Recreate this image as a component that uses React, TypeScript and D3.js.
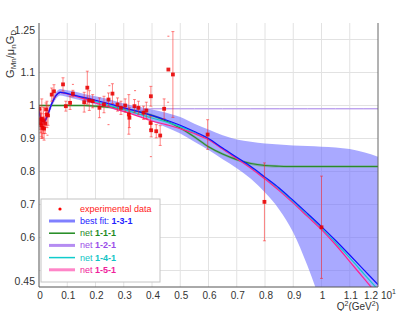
import * as d3 from 'd3';
import React from 'react';

// fit curves, sampled on a common Q^2 grid
const q2Grid = [0, 0.005, 0.012, 0.02, 0.03, 0.045, 0.06, 0.075, 0.09, 0.12, 0.16, 0.2, 0.25, 0.3, 0.35, 0.4, 0.45, 0.5, 0.55, 0.6, 0.65, 0.7, 0.75, 0.8, 0.85, 0.9, 0.95, 1.0, 1.05, 1.1, 1.15, 1.2];
const bestFit = [0.985, 0.965, 0.952, 0.953, 0.97, 1.005, 1.03, 1.04, 1.038, 1.032, 1.024, 1.016, 1.005, 0.993, 0.982, 0.97, 0.956, 0.94, 0.921, 0.9, 0.871, 0.843, 0.815, 0.783, 0.75, 0.712, 0.673, 0.633, 0.591, 0.547, 0.502, 0.457];
const bandUpper = [0.995, 0.975, 0.962, 0.963, 0.98, 1.015, 1.04, 1.05, 1.048, 1.043, 1.035, 1.028, 1.018, 1.006, 0.996, 0.988, 0.978, 0.965, 0.945, 0.927, 0.91, 0.897, 0.89, 0.885, 0.882, 0.879, 0.877, 0.875, 0.873, 0.868, 0.858, 0.845];
const bandLower = [0.975, 0.955, 0.942, 0.943, 0.96, 0.995, 1.02, 1.03, 1.028, 1.021, 1.013, 1.004, 0.992, 0.98, 0.968, 0.952, 0.934, 0.915, 0.89, 0.865, 0.837, 0.81, 0.778, 0.736, 0.685, 0.615, 0.515, 0.4, 0.3, 0.2, 0.1, 0.0];
const net111 = [1.0, 1.0, 1.0, 1.0, 1.0, 1.0, 1.0, 1.0, 1.0, 1.0, 1.0, 0.998, 0.995, 0.99, 0.982, 0.97, 0.953, 0.932, 0.905, 0.875, 0.853, 0.836, 0.824, 0.818, 0.816, 0.815, 0.815, 0.815, 0.815, 0.815, 0.815, 0.815];
const net121 = [0.983, 0.963, 0.951, 0.953, 0.971, 1.006, 1.032, 1.042, 1.04, 1.034, 1.025, 1.015, 1.003, 0.99, 0.984, 0.99, 0.99, 0.99, 0.99, 0.99, 0.99, 0.99, 0.99, 0.99, 0.99, 0.99, 0.99, 0.99, 0.99, 0.99, 0.99, 0.99];
const net141 = [0.984, 0.964, 0.951, 0.952, 0.97, 1.005, 1.03, 1.04, 1.038, 1.031, 1.022, 1.012, 1.0, 0.988, 0.975, 0.962, 0.95, 0.936, 0.918, 0.898, 0.869, 0.841, 0.812, 0.78, 0.746, 0.708, 0.668, 0.628, 0.584, 0.538, 0.49, 0.442];
const net151 = [0.982, 0.962, 0.95, 0.952, 0.97, 1.005, 1.03, 1.04, 1.037, 1.03, 1.02, 1.008, 0.995, 0.982, 0.968, 0.953, 0.942, 0.93, 0.915, 0.896, 0.868, 0.839, 0.81, 0.777, 0.742, 0.704, 0.664, 0.624, 0.578, 0.527, 0.476, 0.425];

// experimental points
const expQ2 = [0.001, 0.004, 0.006, 0.008, 0.01, 0.013, 0.016, 0.018, 0.022, 0.025, 0.028, 0.032, 0.045, 0.053, 0.085, 0.095, 0.11, 0.12, 0.16, 0.171, 0.178, 0.19, 0.214, 0.23, 0.246, 0.26, 0.278, 0.29, 0.305, 0.318, 0.32, 0.338, 0.352, 0.37, 0.38, 0.396, 0.395, 0.397, 0.415, 0.429, 0.443, 0.458, 0.474, 0.597, 0.798, 1.0];
const expG = [0.99, 0.958, 0.947, 0.94, 0.96, 0.932, 0.955, 0.93, 0.945, 0.988, 0.973, 0.97, 1.033, 1.043, 1.064, 0.998, 1.008, 1.036, 1.01, 1.054, 1.015, 1.013, 0.993, 1.003, 1.018, 1.036, 1.003, 0.993, 1.0, 0.973, 0.963, 0.998, 0.993, 0.978, 0.985, 1.028, 0.947, 0.925, 0.922, 0.909, 0.99, 1.109, 1.094, 0.912, 0.708, 0.631];
const expErr = [0.01, 0.03, 0.03, 0.035, 0.06, 0.03, 0.04, 0.035, 0.03, 0.02, 0.04, 0.03, 0.02, 0.02, 0.02, 0.015, 0.02, 0.01, 0.03, 0.05, 0.03, 0.02, 0.03, 0.025, 0.02, 0.03, 0.02, 0.02, 0.02, 0.06, 0.03, 0.02, 0.02, 0.02, 0.025, 0.03, 0.02, 0.02, 0.02, 0.03, 0.03, 0, 0.13, 0.045, 0.118, 0.155];

// stray tiny marks
const markQ2 = [0.03, 0.12, 0.249, 0.246, 0.396, 0.457, 0.458, 0.34];
const markG = [0.91, 1.064, 1.06, 0.942, 0.845, 1.01, 1.21, 1.045];

const yTicks = [0.6, 0.7, 0.8, 0.9, 1, 1.1];
const yGrid = [0.5, 0.6, 0.7, 0.8, 0.9, 1, 1.1, 1.2];
const xTicks = [0, 0.1, 0.2, 0.3, 0.4, 0.5, 0.6, 0.7, 0.8, 0.9, 1, 1.1, 1.2];

const legendItems = [
  { pre: 'best fit: ', bold: '1-3-1', color: '#2222ff', line: '#8080ff', w: 3 },
  { pre: 'net ', bold: '1-1-1', color: '#1f8a1f', line: '#1f8a1f', w: 1.5 },
  { pre: 'net ', bold: '1-2-1', color: '#9a4de8', line: '#b58cf2', w: 3 },
  { pre: 'net ', bold: '1-4-1', color: '#10c4c4', line: '#10cccc', w: 1.5 },
  { pre: 'net ', bold: '1-5-1', color: '#f0209a', line: '#ff85c8', w: 3 },
];

const W = 415, H = 311;
const L = 39, R = 378, T = 23, B = 287;
const font = '"Liberation Sans", Arial, sans-serif';

export default function App() {
  const x = d3.scaleLinear().domain([0, 1.2]).range([L, R]);
  const y = d3.scaleLinear().domain([0.45, 1.25]).range([B, T]);
  const fmt = d3.format('~g');

  const line = (vals: number[]) =>
    d3.line<number>().x((_, i) => x(q2Grid[i])).y(d => y(d)).curve(d3.curveMonotoneX)(vals) || '';
  const band = d3.area<number>()
    .x((_, i) => x(q2Grid[i]))
    .y0((_, i) => y(bandLower[i]))
    .y1(d => y(d))
    .curve(d3.curveMonotoneX)(bandUpper) || '';
  const greenBand = d3.area<number>()
    .x((_, i) => x(q2Grid[i]))
    .y0(d => y(d - 0.004))
    .y1(d => y(d + 0.004))
    .curve(d3.curveMonotoneX)(net111) || '';

  return (
    <svg width={W} height={H} style={{ position: 'absolute', left: 0, top: 0, fontFamily: font }}>
      <defs>
        <clipPath id="plot">
          <rect x={L} y={T} width={R - L} height={B - T} />
        </clipPath>
      </defs>
      <rect width={W} height={H} fill="#fff" />

      {/* grid */}
      {yGrid.map(v => (
        <line key={'gy' + v} x1={L} x2={R} y1={y(v)} y2={y(v)} stroke="#e2e2e2" />
      ))}
      {xTicks.slice(1, -1).map(v => (
        <line key={'gx' + v} x1={x(v)} x2={x(v)} y1={T} y2={B} stroke="#e2e2e2" />
      ))}

      <g clipPath="url(#plot)">
        <path d={band} fill="#7070ff" fillOpacity={0.6} />
        <path d={greenBand} fill="#5aa55a" fillOpacity={0.5} />
        <path d={line(net111)} fill="none" stroke="#2a8a2a" strokeWidth={1.1} />
        <path d={line(net121)} fill="none" stroke="#a37ee8" strokeWidth={1} />
        <path d={line(net141)} fill="none" stroke="#10cccc" strokeWidth={1.2} />
        <path d={line(net151)} fill="none" stroke="#ff2090" strokeWidth={1.2} />
        <path d={line(bestFit)} fill="none" stroke="#1010ff" strokeWidth={1.2} />

        {expQ2.map((q, i) => expErr[i] > 0 && (
          <g key={'e' + i} stroke="#ff2020" strokeOpacity={0.55}>
            <line x1={x(q)} x2={x(q)} y1={y(expG[i] + expErr[i])} y2={y(expG[i] - expErr[i])} />
            <line x1={x(q) - 1.5} x2={x(q) + 1.5} y1={y(expG[i] + expErr[i])} y2={y(expG[i] + expErr[i])} />
            <line x1={x(q) - 1.5} x2={x(q) + 1.5} y1={y(expG[i] - expErr[i])} y2={y(expG[i] - expErr[i])} />
          </g>
        ))}
        {markQ2.map((q, i) => (
          <rect key={'m' + i} x={x(q) - 1} y={y(markG[i]) - 0.5} width={2} height={1} fill="#ff3030" fillOpacity={0.7} />
        ))}
        {expQ2.map((q, i) => (
          <rect key={'p' + i} x={x(q) - 1.9} y={y(expG[i]) - 1.9} width={3.8} height={3.8} fill="#e80000" fillOpacity={0.88} />
        ))}
      </g>

      {/* axes */}
      <line x1={L} x2={L} y1={T} y2={B} stroke="#555" />
      <line x1={L} x2={R} y1={B} y2={B} stroke="#555" />
      <line x1={R} x2={R} y1={T} y2={B} stroke="#666" />

      {/* y tick labels */}
      <g fontSize={10.5} fill="#333" textAnchor="end">
        {yTicks.map(v => (
          <text key={'yt' + v} x={35} y={y(v) + 3.5}>{fmt(v)}</text>
        ))}
        <text x={35} y={34}>1.25</text>
        <text x={35} y={285}>0.45</text>
      </g>

      {/* x tick labels */}
      <g fontSize={10} fill="#333" textAnchor="middle">
        {xTicks.map((v, i) => (
          <text key={'xt' + v} x={i === xTicks.length - 1 ? x(v) - 7 : x(v) + 1} y={299}>{fmt(v)}</text>
        ))}
        <text x={381} y={299} textAnchor="start">10</text>
        <text x={392} y={294} fontSize={7} textAnchor="start">1</text>
      </g>

      {/* axis titles */}
      <text x={379} y={310} fontSize={10} fill="#333" textAnchor="end">
        Q<tspan fontSize={7} dy={-4}>2</tspan><tspan dy={4}>(GeV</tspan><tspan fontSize={7} dy={-4}>2</tspan><tspan dy={4}>)</tspan>
      </text>
      <text transform="translate(14,30) rotate(-90)" fontSize={11} fill="#333" textAnchor="end">
        G<tspan fontSize={8} dy={2}>Mn</tspan><tspan dy={-2}>/μ</tspan><tspan fontSize={8} dy={2}>n</tspan><tspan dy={-2}>G</tspan><tspan fontSize={8} dy={2}>D</tspan>
      </text>

      {/* legend */}
      <g fontSize={9} fontFamily={font}>
        <rect x={41} y={199} width={119} height={83} fill="#fff" stroke="#c4c4c4" />
        <circle cx={60} cy={209} r={1.6} fill="#ff0000" />
        <text x={80} y={212} fill="#ff2020">experimental data</text>
        {legendItems.map((it, i) => {
          const cy = 221 + i * 12.2;
          return (
            <g key={'lg' + i}>
              <line x1={49} x2={75} y1={cy} y2={cy} stroke={it.line} strokeWidth={it.w} />
              <text x={80} y={cy + 3} fill={it.color}>
                {it.pre}<tspan fontWeight="bold">{it.bold}</tspan>
              </text>
            </g>
          );
        })}
      </g>
    </svg>
  );
}
